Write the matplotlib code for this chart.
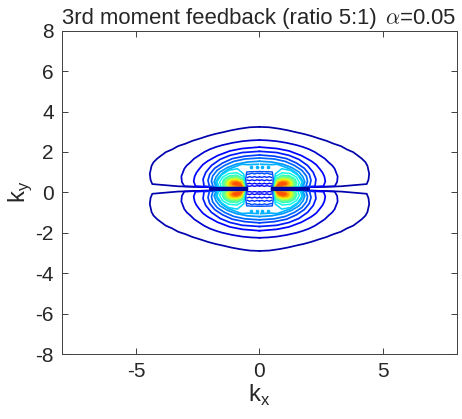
import numpy as np
import matplotlib
matplotlib.use("Agg")
import matplotlib.pyplot as plt

plt.rcParams['font.family'] = ['Liberation Sans', 'DejaVu Sans']
plt.rcParams['axes.unicode_minus'] = False
plt.rcParams['mathtext.fontset'] = 'custom'
plt.rcParams['mathtext.rm'] = 'Liberation Sans'

title_left = "3rd moment feedback (ratio 5:1)"
title_right = r"$\alpha$=0.05"
xticks = [-5, 0, 5]
yticks = [-8, -6, -4, -2, 0, 2, 4, 6, 8]
ky_center = 0.17

# upper right quadrant of each contour: kx, height above the centre line
c1_x = [0.0, 0.4, 0.8, 1.15, 1.5, 1.8, 2.1, 2.4, 2.72, 3.0, 3.3, 3.55, 3.8, 4.0, 4.15, 4.3, 4.38, 4.45, 4.42, 4.35, 3.3, 2.3, 1.0, 0.5]
c1_h = [3.07, 3.05, 2.98, 2.9, 2.8, 2.72, 2.62, 2.5, 2.38, 2.24, 2.12, 1.95, 1.82, 1.64, 1.5, 1.32, 1.14, 0.75, 0.45, 0.24, 0.13, 0.09, 0.06, 0.05]
c2_x = [0.0, 0.35, 0.7, 1.1, 1.5, 1.75, 2.0, 2.25, 2.45, 2.65, 2.8, 2.95, 3.05, 3.17, 3.15, 3.05, 2.2, 1.0, 0.5]
c2_h = [2.42, 2.4, 2.36, 2.28, 2.17, 2.08, 1.97, 1.82, 1.66, 1.5, 1.32, 1.16, 1.0, 0.62, 0.35, 0.13, 0.09, 0.07, 0.05]
c3_x = [0.0, 0.7, 1.2, 1.7, 2.1, 2.3, 2.45, 2.56, 2.63, 2.67, 2.6, 1.9, 1.0, 0.5]
c3_h = [2.07, 2.0, 1.88, 1.65, 1.38, 1.2, 0.98, 0.8, 0.62, 0.38, 0.14, 0.09, 0.06, 0.04]
c4_x = [0.0, 0.7, 1.2, 1.6, 1.95, 2.18, 2.29, 2.25, 1.6, 0.9, 0.5]
c4_h = [1.86, 1.8, 1.66, 1.46, 1.16, 0.82, 0.48, 0.13, 0.08, 0.05, 0.03]
c5_x = [0.0, 0.6, 1.1, 1.5, 1.82, 2.02, 2.09, 2.03, 1.4, 0.8, 0.5]
c5_h = [1.68, 1.62, 1.5, 1.28, 1.02, 0.72, 0.42, 0.12, 0.07, 0.04, 0.02]
c6_x = [0.0, 0.6, 1.05, 1.42, 1.72, 1.9, 1.95, 1.88, 1.3, 0.8, 0.5]
c6_h = [1.53, 1.48, 1.36, 1.16, 0.92, 0.64, 0.38, 0.11, 0.06, 0.03, 0.02]
c7_x = [0.0, 0.5, 0.95, 1.3, 1.6, 1.76, 1.84, 1.76, 1.2, 0.8, 0.5]
c7_h = [1.37, 1.33, 1.22, 1.06, 0.84, 0.6, 0.34, 0.1, 0.05, 0.03, 0.02]
c8_x = [0.05, 0.45, 0.72, 0.95, 1.25, 1.5, 1.68, 1.78, 1.7, 1.1, 0.5]
c8_h = [1.22, 1.2, 1.22, 1.12, 0.98, 0.78, 0.54, 0.3, 0.09, 0.04, 0.01]

outer_x = [c1_x, c2_x, c3_x, c4_x, c5_x, c6_x, c7_x, c8_x]
outer_h = [c1_h, c2_h, c3_h, c4_h, c5_h, c6_h, c7_h, c8_h]
outer_level = [0.04, 0.07, 0.11, 0.15, 0.19, 0.23, 0.27, 0.3]

# closed contours round the hot spot in the same quadrant
l1_x = [0.58, 0.64, 0.9, 1.25, 1.55, 1.72, 1.66, 1.2, 0.72, 0.58]
l1_h = [0.1, 0.74, 1.0, 0.92, 0.68, 0.36, 0.1, 0.08, 0.08, 0.1]
l2_x = [0.6, 0.66, 0.92, 1.25, 1.5, 1.62, 1.55, 1.15, 0.72, 0.6]
l2_h = [0.1, 0.62, 0.8, 0.76, 0.58, 0.32, 0.1, 0.08, 0.08, 0.1]
l3_x = [0.6, 0.68, 0.92, 1.22, 1.44, 1.52, 1.44, 1.1, 0.72, 0.6]
l3_h = [0.1, 0.52, 0.68, 0.65, 0.5, 0.28, 0.1, 0.08, 0.08, 0.1]
l4_x = [0.62, 0.69, 0.92, 1.2, 1.38, 1.44, 1.36, 1.05, 0.72, 0.62]
l4_h = [0.1, 0.46, 0.6, 0.57, 0.45, 0.26, 0.1, 0.08, 0.08, 0.1]
l5_x = [0.64, 0.71, 0.92, 1.18, 1.32, 1.37, 1.28, 1.0, 0.74, 0.64]
l5_h = [0.11, 0.42, 0.53, 0.5, 0.4, 0.24, 0.11, 0.09, 0.09, 0.11]
l6_x = [0.66, 0.72, 0.94, 1.16, 1.27, 1.3, 1.2, 0.96, 0.74, 0.66]
l6_h = [0.12, 0.38, 0.47, 0.45, 0.36, 0.22, 0.12, 0.1, 0.1, 0.12]
l7_x = [0.68, 0.74, 0.94, 1.14, 1.22, 1.23, 1.12, 0.92, 0.76, 0.68]
l7_h = [0.14, 0.34, 0.42, 0.4, 0.32, 0.21, 0.14, 0.12, 0.12, 0.14]
l8_x = [0.71, 0.78, 0.94, 1.1, 1.16, 1.08, 0.9, 0.78, 0.71]
l8_h = [0.16, 0.31, 0.37, 0.35, 0.27, 0.19, 0.15, 0.15, 0.16]
l9_x = [0.76, 0.82, 0.94, 1.04, 1.08, 0.96, 0.84, 0.76]
l9_h = [0.19, 0.28, 0.32, 0.3, 0.24, 0.19, 0.18, 0.19]

lobe_x = [l1_x, l2_x, l3_x, l4_x, l5_x, l6_x, l7_x, l8_x, l9_x]
lobe_h = [l1_h, l2_h, l3_h, l4_h, l5_h, l6_h, l7_h, l8_h, l9_h]
lobe_level = [0.33, 0.37, 0.42, 0.48, 0.55, 0.63, 0.7, 0.76, 0.82]

# wavy lines of the square in the middle
sq_x = [0.0, 0.1, 0.2, 0.3, 0.4, 0.5]
sq_h = [[0.76, 0.78, 0.74, 0.78, 0.74, 0.72],
        [0.6, 0.57, 0.61, 0.57, 0.61, 0.56],
        [0.42, 0.45, 0.41, 0.45, 0.41, 0.44],
        [0.27, 0.24, 0.28, 0.24, 0.28, 0.25],
        [0.14, 0.16, 0.13, 0.16, 0.13, 0.15]]
sq_level = [0.2, 0.17, 0.15, 0.13, 0.11]
box_x = [0.0, 0.35, 0.52, 0.56, 0.54, 0.5]
box_h = [0.86, 0.85, 0.84, 0.5, 0.2, 0.06]
spot_x = [0.1, 0.35]
spot_h = [1.08, 1.08]

# dark streak along the centre line
streak_x = [0.5, 1.2, 2.0]
streak_h1 = [0.02, 0.02, 0.02]
streak_h2 = [0.07, 0.07, 0.05]


def quadrants(x, h):
    # the four mirror copies of one quadrant curve
    x = np.array(x)
    h = np.array(h)
    return [(s * x, ky_center + t * h) for s in (1, -1) for t in (1, -1)]


fig = plt.figure(figsize=(4.62, 4.19), dpi=100)
ax = fig.add_axes([62.3 / 462, 1 - 354 / 419, 394.4 / 462, 323.3 / 419])
cmap = plt.get_cmap("jet")

for x, h, lev in zip(outer_x, outer_h, outer_level):
    for xx, yy in quadrants(x, h):
        ax.plot(xx, yy, color=cmap(lev), lw=1.25)
for i, (x, h, lev) in enumerate(zip(lobe_x, lobe_h, lobe_level)):
    for xx, yy in quadrants(x, h):
        ax.plot(xx, yy, color=cmap(lev), lw=1.1)
        # the inner contours merge into a solid patch
        if i >= 2:
            ax.fill(xx, yy, color=cmap(lev), lw=0)
for h, lev in zip(sq_h, sq_level):
    for xx, yy in quadrants(sq_x, h):
        ax.plot(xx, yy, color=cmap(lev), lw=1.0)
for xx, yy in quadrants(box_x, box_h):
    ax.plot(xx, yy, color=cmap(0.2), lw=1.0)
for xx, yy in quadrants(spot_x, spot_h):
    ax.plot(xx, yy, ls="none", marker="o", ms=1.6, color=cmap(0.3))
for h in (streak_h1, streak_h2):
    for xx, yy in quadrants(streak_x, h):
        ax.plot(xx, yy, color=cmap(0.03), lw=1.2)

ax.set_xlim(-8, 8)
ax.set_ylim(-8, 8)
ax.set_xticks(xticks)
ax.set_yticks(yticks)
ax.tick_params(direction="in", top=True, right=True, length=4, width=0.7,
               color="#404040", labelsize=15, labelcolor="#262626", pad=6)
for s in ax.spines.values():
    s.set_linewidth(0.7)
    s.set_color("#404040")

ax.set_xlabel(r"k$_{\mathrm{x}}$", fontsize=17, color="#262626", labelpad=1)
ax.set_ylabel(r"k$_{\mathrm{y}}$", fontsize=17, color="#262626", labelpad=1)
ax.set_title(title_left, fontsize=15.9, color="#262626", pad=5, loc="left")
ax.set_title(title_right, fontsize=15.9, color="#262626", pad=5, loc="right",
             math_fontfamily="cm")

fig.savefig("out.png", dpi=100)
